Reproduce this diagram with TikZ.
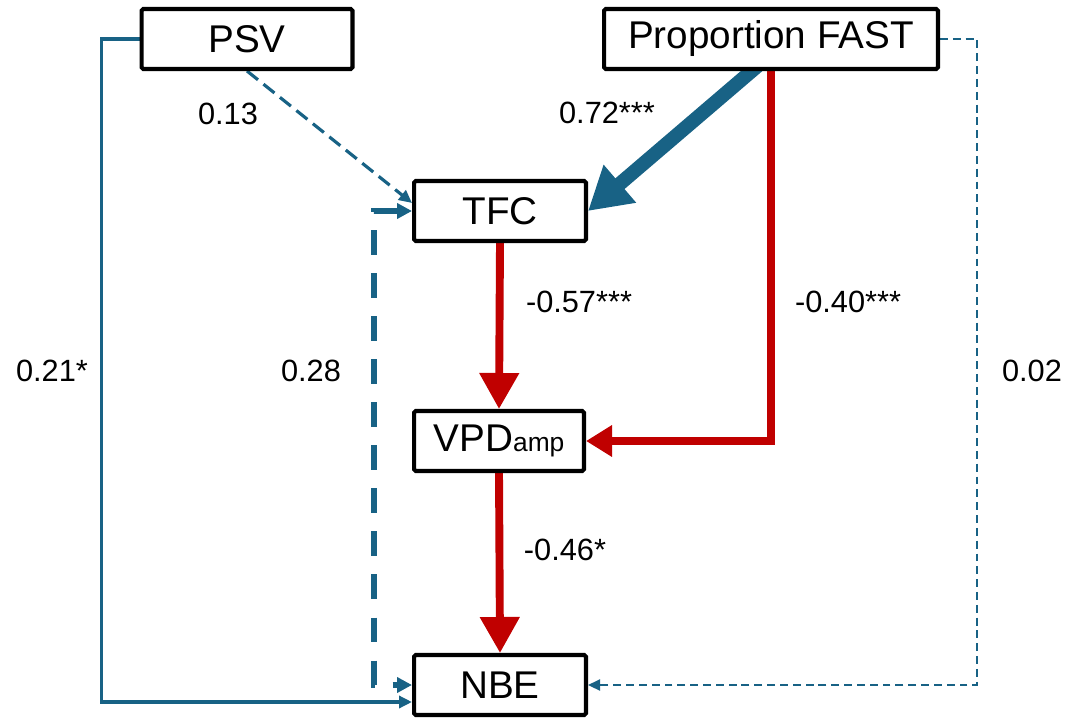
\documentclass[tikz,border=0pt]{standalone}
\usepackage{fontspec}
\setmainfont{Liberation Sans}
\usetikzlibrary{arrows.meta,backgrounds}
\definecolor{pathblue}{RGB}{24,98,133}
\definecolor{pathred}{RGB}{192,0,0}

\begin{document}
\begin{tikzpicture}[x=0.02cm,y=-0.02cm,line join=miter,
    var/.style={draw,fill=white,line width=2.3pt,rounded corners=1pt,minimum height=1.2cm,inner sep=0pt,
        font=\fontsize{22}{26}\selectfont},
    coef/.style={font=\fontsize{17.5}{20}\selectfont,inner sep=0pt},
    bluethin/.style={pathblue,line width=2.1pt,-{Triangle[length=0.26cm,width=0.24cm]}},
    bluedash/.style={bluethin,line width=1.8pt,dash pattern=on 8pt off 4pt},
    bluedot/.style={pathblue,line width=1.3pt,dash pattern=on 4.5pt off 2.8pt,-{Triangle[length=0.24cm,width=0.22cm]}},
    bluewide/.style={pathblue,line width=3.4pt,dash pattern=on 14pt off 10.5pt,
        {Triangle[length=0.3cm,width=0.3cm]}-{Triangle[length=0.3cm,width=0.3cm]}},
    bluethick/.style={pathblue,line width=8pt,-{Triangle[length=0.84cm,width=0.94cm]}},
    redthick/.style={pathred,line width=4.5pt,-{Triangle[length=0.72cm,width=0.76cm]}},
    redside/.style={pathred,line width=4.5pt,-{Triangle[length=0.52cm,width=0.6cm]}}]

\useasboundingbox (0,0) rectangle (1070,719);

\node[var,minimum width=4.22cm] (psv) at (247,39) {PSV};
\node[var,minimum width=6.68cm] (fast) at (771,39) {Proportion FAST};
\node[var,minimum width=3.44cm] (tfc) at (500,211) {TFC};
\node[var,minimum width=3.40cm] (vpd) at (499,441) {VPD{\fontsize{15}{15}\selectfont amp}};
\node[var,minimum width=3.44cm] (nbe) at (500,685) {NBE};

\begin{scope}[on background layer]
\draw[bluethin] (psv.west) -- ++(-38,0) |- ([yshift=-0.34cm]nbe.west);
\path[bluedash] (psv.south) edge ([yshift=0.16cm]tfc.west);
\path[bluethick] ([xshift=-0.06cm,yshift=0.28cm]fast.south) edge (tfc.east);
\draw[redside] (fast.south) |- (vpd.east);
\path[redthick] (tfc.south) edge (vpd.north);
\path[redthick] (vpd.south) edge (nbe.north);
\draw[bluedot] (fast.east) -- ++(37,0) |- (nbe.east);
\draw[bluewide] (tfc.west) -- ++(-38,0) |- (nbe.west);
\end{scope}

\node[coef] (l-psv-nbe) at (52,371) {0.21*};
\node[coef] (l-psv-tfc) at (228,114) {0.13};
\node[coef] (l-fast-tfc) at (607,113) {0.72***};
\node[coef] (l-tfc-vpd) at (579,302) {-0.57***};
\node[coef] (l-fast-vpd) at (848,302) {-0.40***};
\node[coef] (l-vpd-nbe) at (565,550) {-0.46*};
\node[coef] (l-tfc-nbe) at (311,371) {0.28};
\node[coef] (l-fast-nbe) at (1032,371) {0.02};

\end{tikzpicture}
\end{document}
